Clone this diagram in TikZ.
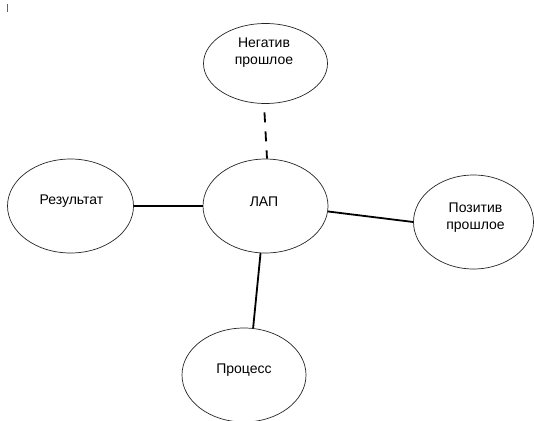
\documentclass[tikz,border=0pt]{standalone}
\usepackage{fontspec}
\setmainfont{Liberation Sans}
\usetikzlibrary{shapes.geometric}
\begin{document}
\begin{tikzpicture}[x=1pt,y=-1pt,
  bub/.style={draw=black!85,line width=0.7pt,ellipse,inner sep=0pt},
  txt/.style={font=\fontsize{14}{17}\selectfont,align=center,inner sep=0pt},
  conn/.style={line width=1.8pt,black},
  dconn/.style={conn,dash pattern=on 10pt off 9pt}]
\useasboundingbox (0,0) rectangle (534,420);
\fill[white] (0,0) rectangle (534,420);
\draw[black!60,line width=0.7pt] (7.5,4) -- (7.5,12);
% ellipses
\node[bub,minimum width=124pt,minimum height=80pt] (neg) at (265.5,63.5) {};
\node[bub,minimum width=125pt,minimum height=94pt] (lap) at (265.5,206) {};
\node[bub,minimum width=126pt,minimum height=94pt] (res) at (70.5,206) {};
\node[bub,minimum width=120pt,minimum height=94pt] (poz) at (473.5,222) {};
\node[bub,minimum width=124pt,minimum height=94pt] (proc) at (244,375) {};
% texts
\node[txt] (negt) at (264,53) {Негатив\\прошлое};
\node[txt] (lapt) at (264,202) {ЛАП};
\node[txt] (rest) at (71.5,201) {Результат};
\node[txt] (pozt) at (475.5,218) {Позитив\\прошлое};
\node[txt] (proct) at (244,370) {Процесс};
% connectors
\draw[dconn,shorten <=8.5pt] ([xshift=-1.5pt]neg.south) -- ([xshift=1.5pt]lap.north);
\draw[conn] (res.east) -- (lap.west);
\draw[conn] (lap.-5) -- (poz.west);
\draw[conn] (lap.-96) -- (proc.79);
\end{tikzpicture}
\end{document}
